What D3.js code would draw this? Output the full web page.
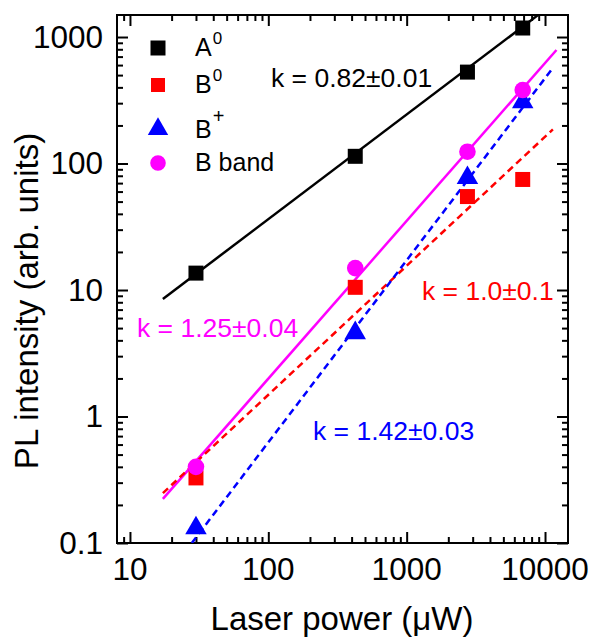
<!DOCTYPE html>
<html><head><meta charset="utf-8">
<script src="https://cdn.jsdelivr.net/npm/d3@7"></script>
<style>
html,body{margin:0;padding:0;background:#fff;}
svg{display:block;font-family:"Liberation Sans",Arial,sans-serif;}
</style></head>
<body>
<svg id="chart" width="591" height="641"></svg>
<script>
// ---- data ----
const laserPower = [30, 425, 2750, 6900];           // µW
const seriesNames = ["A", "B", "B", "B band"];
const seriesSup   = ["0", "0", "+", ""];
const A0    = [13.6, 114, 528, 1178];
const B0    = [0.327, 10.5, 54.8, 74.8];
const Bplus = [0.131, 4.57, 77, 306];
const Bband = [0.40, 14.9, 124, 381];
// fitted power-law lines: [x, y] end points
const fitA0    = [[17.3, 8.5], [8900, 1490]];
const fitB0    = [[17.3, 0.248], [11400, 186]];
const fitBplus = [[28, 0.1], [11400, 570]];
const fitBband = [[17.3, 0.223], [12100, 790]];
const fitLabels = ["k = 0.82\u00b10.01", "k = 1.0\u00b10.1", "k = 1.42\u00b10.03", "k = 1.25\u00b10.04"];
const xTickLabels = [10, 100, 1000, 10000];
const yTickLabels = [0.1, 1, 10, 100, 1000];
const xDomain = [8.06, 14660];
const yDomain = [0.1, 1493];

// ---- layout ----
const L = 117, R = 568, T = 15, B = 543;
const svg = d3.select("#chart");
const x = d3.scaleLog().domain(xDomain).range([L, R]);
const y = d3.scaleLog().domain(yDomain).range([B, T]);

function minors(dom){
  const out=[];
  for(let e=-3;e<6;e++){
    for(let m=2;m<=9;m++){
      const v=m*Math.pow(10,e);
      if(v>=dom[0]&&v<=dom[1]) out.push(v);
    }
  }
  return out;
}
const xMinor = minors(xDomain), yMinor = minors(yDomain);

// clip
svg.append("defs").append("clipPath").attr("id","clip")
  .append("rect").attr("x",L).attr("y",T).attr("width",R-L).attr("height",B-T);

// ticks (all four sides, inward)
function addAxis(gen, tr, vals, size){
  const g = svg.append("g").attr("transform",tr)
    .call(gen.tickValues(vals).tickSize(size).tickFormat(""));
  g.select(".domain").remove();
  g.selectAll("line").attr("stroke","#000").attr("stroke-width",2);
}
addAxis(d3.axisBottom(x), `translate(0,${B})`, xTickLabels, -11);
addAxis(d3.axisBottom(x), `translate(0,${B})`, xMinor, -6);
addAxis(d3.axisTop(x), `translate(0,${T})`, xTickLabels, -11);
addAxis(d3.axisTop(x), `translate(0,${T})`, xMinor, -6);
addAxis(d3.axisLeft(y), `translate(${L},0)`, yTickLabels, -11);
addAxis(d3.axisLeft(y), `translate(${L},0)`, yMinor, -6);
addAxis(d3.axisRight(y), `translate(${R},0)`, yTickLabels, -11);
addAxis(d3.axisRight(y), `translate(${R},0)`, yMinor, -6);

// frame
svg.append("rect").attr("x",L).attr("y",T).attr("width",R-L).attr("height",B-T)
  .attr("fill","none").attr("stroke","#000").attr("stroke-width",2);

// tick labels
svg.append("g").selectAll("text").data(xTickLabels).join("text")
  .attr("x",d=>x(d)).attr("y",580).attr("text-anchor","middle")
  .attr("font-size",31.5).text(d=>d);
svg.append("g").selectAll("text").data(yTickLabels).join("text")
  .attr("x",103).attr("y",d=>y(d)).attr("dy","0.34em").attr("text-anchor","end")
  .attr("font-size",31.5).text(d=>d);

// axis titles
svg.append("text").attr("x",342).attr("y",630).attr("text-anchor","middle")
  .attr("font-size",33).text("Laser power (\u03bcW)");
svg.append("text").attr("transform","translate(38,301) rotate(-90)")
  .attr("text-anchor","middle").attr("font-size",33).text("PL intensity (arb. units)");

// fit lines
const line = d3.line().x(d=>x(d[0])).y(d=>y(d[1]));
const fits = [
  {d:fitA0, c:"#000000", dash:null},
  {d:fitBband, c:"#ff00ff", dash:null},
  {d:fitB0, c:"#ff0000", dash:"7,4.5"},
  {d:fitBplus, c:"#0000ff", dash:"7,4.5"}
];
const gl = svg.append("g").attr("clip-path","url(#clip)");
fits.forEach(f=>{
  gl.append("path").attr("d",line(f.d)).attr("fill","none")
    .attr("stroke",f.c).attr("stroke-width",2.5)
    .attr("stroke-dasharray",f.dash);
});

// markers
const sq = d3.symbol().type(d3.symbolSquare).size(15*15);
const tri = d3.symbol().type(d3.symbolTriangle).size(200);
const circ = d3.symbol().type(d3.symbolCircle).size(Math.PI*8.3*8.3);
function pts(vals, sym, col){
  svg.append("g").selectAll("path").data(vals).join("path")
    .attr("transform",(d,i)=>`translate(${x(laserPower[i])},${y(d)})`)
    .attr("d",sym).attr("fill",col);
}
pts(A0, sq, "#000000");
pts(Bplus, tri, "#0000ff");
pts(B0, sq, "#ff0000");
pts(Bband, circ, "#ff00ff");

// legend
const legSyms = [sq, d3.symbol().type(d3.symbolSquare).size(14*14), d3.symbol().type(d3.symbolTriangle).size(180), d3.symbol().type(d3.symbolCircle).size(Math.PI*7.8*7.8)];
const legCols = ["#000000","#ff0000","#0000ff","#ff00ff"];
const legY = [48, 85, 129, 163];
const legBase = [56, 93, 138, 171];
const lg = svg.append("g");
seriesNames.forEach((n,i)=>{
  lg.append("path").attr("transform",`translate(158,${legY[i]})`).attr("d",legSyms[i]).attr("fill",legCols[i]);
  const t = lg.append("text").attr("x",195).attr("y",legBase[i]).attr("font-size",25);
  t.append("tspan").text(n);
  if(seriesSup[i]){
    t.append("tspan").attr("font-size",seriesSup[i]==="+"?20:17)
      .attr("dy",seriesSup[i]==="+"?-15:-12).attr("dx",1).text(seriesSup[i]);
  }
});

// fit annotations
const ann = [
  {t:fitLabels[0], x:271, y:87, c:"#000000"},
  {t:fitLabels[1], x:422, y:300, c:"#ff0000"},
  {t:fitLabels[2], x:313, y:440, c:"#0000ff"},
  {t:fitLabels[3], x:137, y:337, c:"#ff00ff"}
];
svg.append("g").selectAll("text").data(ann).join("text")
  .attr("x",d=>d.x).attr("y",d=>d.y).attr("fill",d=>d.c)
  .attr("font-size",26.5).text(d=>d.t);
</script>
</body></html>
